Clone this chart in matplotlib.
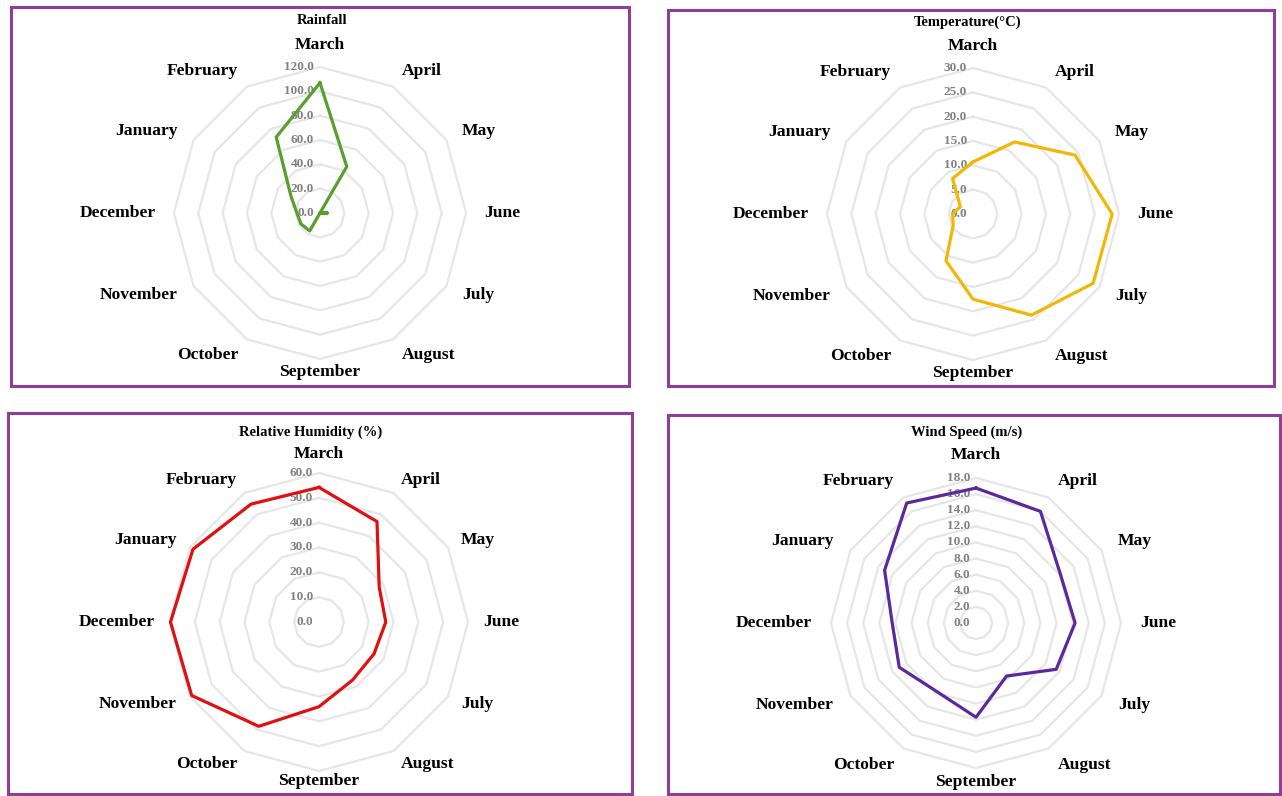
import numpy as np
import matplotlib
matplotlib.use('Agg')
import matplotlib.pyplot as plt
from matplotlib.patches import Rectangle
from matplotlib.transforms import offset_copy

months = ['March', 'April', 'May', 'June', 'July', 'August', 'September',
          'October', 'November', 'December', 'January', 'February']

rainfall = [107, 44, 0, 6, 0, 0, 0, 17, 18, 19, 27.5, 72]
temperature = [10.7, 17.1, 24.2, 28.6, 28.5, 24.0, 17.5, 11.1, 4.7, 4.2, 3.0, 8.4]
humidity = [54.2, 46.7, 28.0, 26.9, 25.6, 27.0, 34.1, 48.5, 59.2, 59.8, 58.6, 54.8]
wind = [16.75, 16.0, 12.1, 12.3, 11.5, 7.6, 11.7, 9.8, 11.0, 10.4, 13.1, 17.2]

rain_ticks = [0, 20, 40, 60, 80, 100, 120]
temp_ticks = [0, 5, 10, 15, 20, 25, 30]
hum_ticks = [0, 10, 20, 30, 40, 50, 60]
wind_ticks = [0, 2, 4, 6, 8, 10, 12, 14, 16, 18]

W, H = 1282, 796
plt.rcParams['font.family'] = 'Liberation Serif'
plt.rcParams['font.weight'] = 'bold'

fig = plt.figure(figsize=(W / 100, H / 100), dpi=100)

# panel frames (pixel boxes: left, top, right, bottom)
frames = [(11, 7, 629, 386), (668, 10, 1274, 386),
          (8, 413, 632, 794), (668, 415, 1280, 794)]
for l, t, r, b in frames:
    fig.add_artist(Rectangle((l / W, 1 - b / H), (r - l) / W, (b - t) / H,
                             transform=fig.transFigure, fill=False,
                             edgecolor='#8e3e98', linewidth=2.2))

panels = [
    ('Rainfall', rainfall, rain_ticks, '#5a9e2e', (320, 213), 146, (322, 20)),
    ('Temperature(°C)', temperature, temp_ticks, '#f2b705', (973, 214), 146, (968, 22)),
    ('Relative Humidity (%)', humidity, hum_ticks, '#e01010', (319, 622), 149, (311, 432)),
    ('Wind Speed (m/s)', wind, wind_ticks, '#5b2a9a', (976, 623), 145, (967, 432)),
]

n = len(months)
theta = np.arange(n) * 2 * np.pi / n
theta_c = np.append(theta, theta[0])

for title, vals, ticks, col, (cx, cy), R, (tx, ty) in panels:
    ax = fig.add_axes([(cx - R) / W, 1 - (cy + R) / H, 2 * R / W, 2 * R / H],
                      projection='polar')
    ax.set_theta_zero_location('N')
    ax.set_theta_direction(-1)
    rmax = ticks[-1]
    ax.set_ylim(0, rmax)
    ax.set_axis_off()

    # polygon gridlines
    for v in ticks[1:]:
        ax.plot(theta_c, [v] * (n + 1), color='#e6e6e6', lw=1.6, zorder=1,
                clip_on=False)

    # data
    ax.plot(theta_c, list(vals) + [vals[0]], color=col, lw=2.3, zorder=3,
            clip_on=False)

    # radial tick labels
    tr = offset_copy(ax.transData, fig=fig, x=-6, y=0, units='dots')
    for v in ticks:
        ax.text(0, v, '%.1f' % v, transform=tr, ha='right', va='center',
                fontsize=9.5, color='#808080', zorder=2)

    # category labels
    for th, m in zip(theta, months):
        s, c = np.sin(th), np.cos(th)
        ha = 'left' if s > 0.1 else ('right' if s < -0.1 else 'center')
        if c > 0.95:
            va, rl = 'bottom', rmax * 160 / R
        elif c < -0.95:
            va, rl = 'center', rmax * 159 / R
        else:
            va, rl = 'center', rmax * 164 / R
        ax.text(th, rl, m, ha=ha, va=va, fontsize=12.6, color='black',
                clip_on=False)

    fig.text(tx / W, 1 - ty / H, title, ha='center', va='center',
             fontsize=10.5, color='black')

fig.savefig('out.png', dpi=100)
